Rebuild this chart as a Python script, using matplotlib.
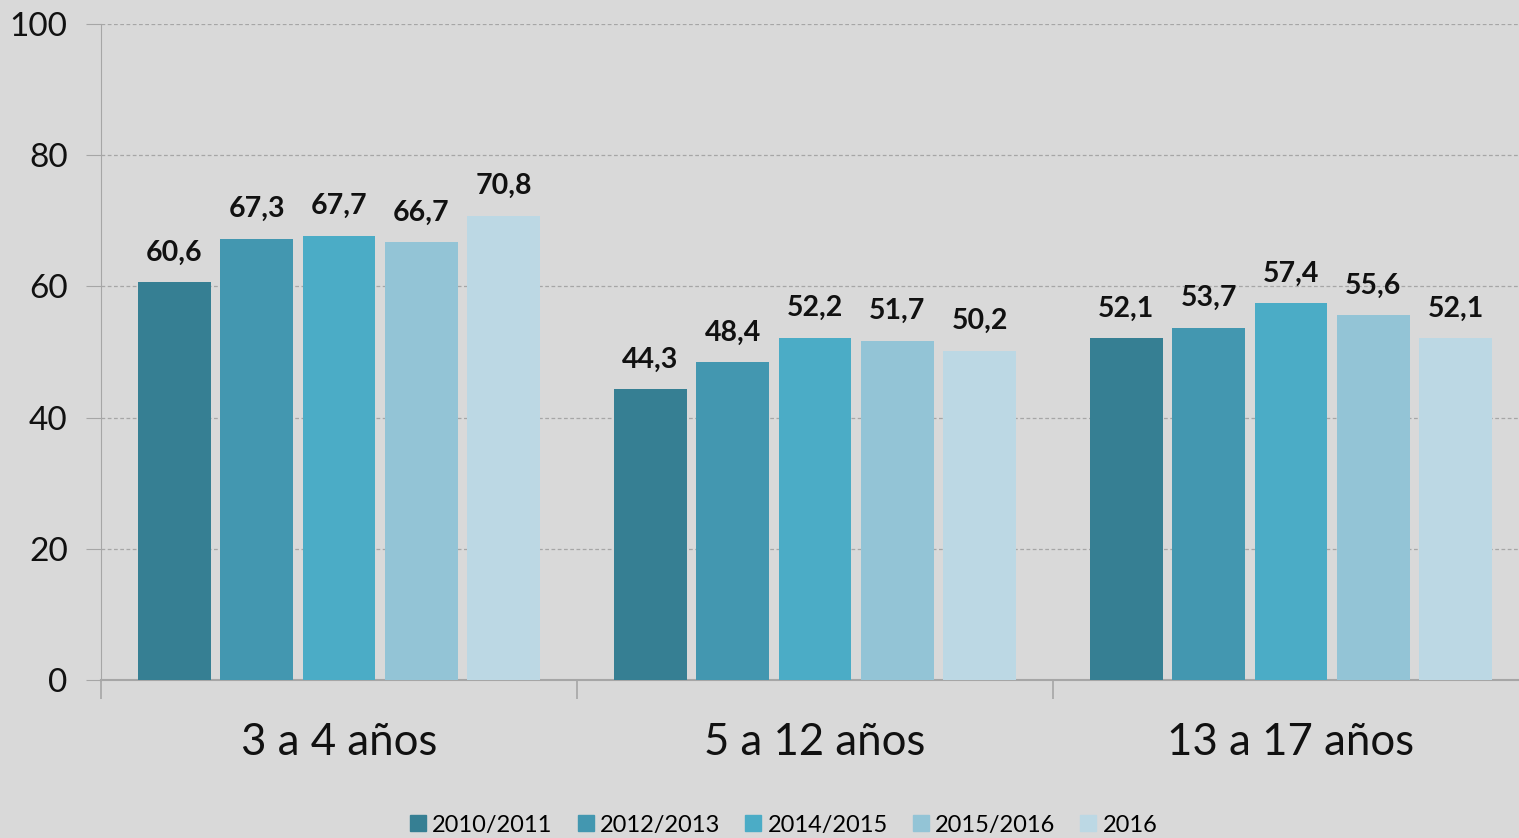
import numpy as np
import matplotlib.pyplot as plt
from matplotlib.lines import Line2D

plt.rcParams['font.family'] = ['Lato', 'DejaVu Sans']

# Datos
grupos = ['3 a 4 años', '5 a 12 años', '13 a 17 años']
series = ['2010/2011', '2012/2013', '2014/2015', '2015/2016', '2016']
valores = [
    [60.6, 44.3, 52.1],
    [67.3, 48.4, 53.7],
    [67.7, 52.2, 57.4],
    [66.7, 51.7, 55.6],
    [70.8, 50.2, 52.1],
]
colores = ['#367f93', '#4397b0', '#4bacc6', '#93c4d6', '#bcd8e4']
fondo = '#d9d9d9'

fig = plt.figure(figsize=(15.19, 8.38), dpi=100, facecolor=fondo)
ax = fig.add_axes([101 / 1519, 1 - 680 / 838, 1428 / 1519, (680 - 24) / 838])
ax.set_facecolor(fondo)

x = np.arange(len(grupos))
paso = 0.173
ancho = 0.153
for i, (serie, vals) in enumerate(zip(series, valores)):
    pos = x + (i - 2) * paso
    ax.bar(pos, vals, width=ancho, color=colores[i], zorder=3)
    for px, v in zip(pos, vals):
        ax.annotate(f'{v:.1f}'.replace('.', ','), (px, v), xytext=(0, 12),
                    textcoords='offset points', ha='center', va='bottom',
                    fontsize=20.5, fontweight='bold', color='#111111')

ax.set_xlim(-0.5, 2.5)
ax.set_ylim(0, 100)
ax.set_yticks(range(0, 101, 20))
ax.yaxis.grid(True, linestyle=(0, (3, 2)), color='#a6a6a6', linewidth=0.9, zorder=0)
ax.tick_params(axis='y', labelsize=24, length=11, color='#a6a6a6', pad=13, labelcolor='#111111')

# ticks del eje x en los límites de grupo, etiquetas centradas
ax.set_xticks([-0.5, 0.5, 1.5])
ax.set_xticklabels([])
ax.tick_params(axis='x', length=14, color='#a6a6a6', width=1.2)
for xi, g in zip(x, grupos):
    ax.text(xi, -9.5, g, ha='center', va='center', fontsize=31.5, color='#111111')

for lado in ['top', 'right']:
    ax.spines[lado].set_visible(False)
for lado in ['left', 'bottom']:
    ax.spines[lado].set_color('#a6a6a6')
ax.spines['bottom'].set_linewidth(1.5)

handles = [Line2D([], [], marker='s', linestyle='none', markersize=11,
                  markerfacecolor=c, markeredgecolor=c) for c in colores]
fig.legend(handles, series, loc='center', bbox_to_anchor=(783 / 1519, 1 - 825 / 838),
           ncol=5, frameon=False, fontsize=17, handletextpad=0.2, columnspacing=1.0,
           handlelength=0.8)

plt.savefig('out.png', dpi=100, facecolor=fondo)
